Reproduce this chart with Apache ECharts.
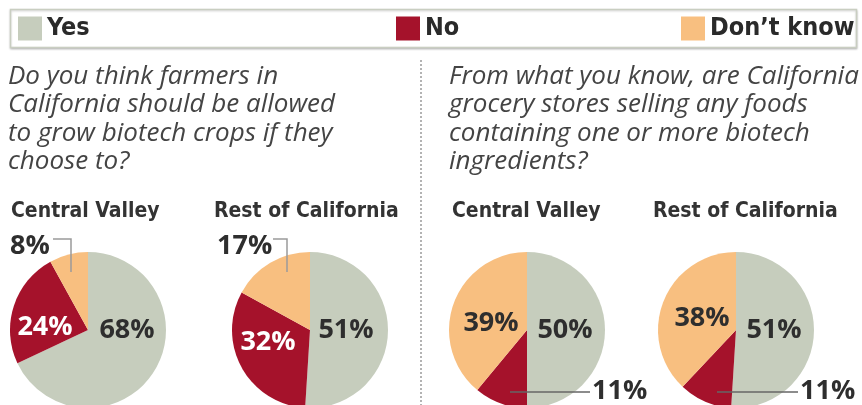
<!DOCTYPE html>
<html>
<head>
<meta charset="utf-8">
<script src="https://cdn.jsdelivr.net/npm/echarts@6/dist/echarts.min.js"></script>
<style>
  html, body { margin: 0; padding: 0; background: #fff; }
  #chart { width: 862px; height: 405px; }
</style>
</head>
<body>
<div id="chart"></div>
<script>
// answers (same order in every pie, clockwise from 12 o'clock)
var answers = ['Yes', 'No', 'Don\u2019t know'];
var regions = ['Central Valley', 'Rest of California'];

// Q1: allowed to grow biotech crops
var growCentral = [68, 24, 8];
var growRest = [51, 32, 17];
// Q2: stores selling biotech foods
var storesCentral = [50, 11, 39];
var storesRest = [51, 11, 38];

var questions = [
  'Do you think farmers in\nCalifornia should be allowed\nto grow biotech crops if they\nchoose to?',
  'From what you know, are California\ngrocery stores selling any foods\ncontaining one or more biotech\ningredients?'
];

var colors = ['#c6cdbd', '#a5122b', '#f8bf80'];
var labelColors = ['#2e2e2e', '#ffffff', '#2e2e2e'];

var pctFont = '"Open Sans", "DejaVu Sans", sans-serif';
var headFont = '"DejaVu Sans Condensed", "DejaVu Sans", sans-serif';
var narrowFont = '"Liberation Sans Narrow", "DejaVu Sans Condensed", sans-serif';

// pie layout: centre, which slice is labelled outside, label offsets from centre
var pies = [
  { values: growCentral, cx: 88, outer: 2, lineColor: '#9a9a9a',
    offs: [[39, 0], [-43, -3], [-78, -84]],
    line: [[-17, -58], [-17, -91], [-35, -91]] },
  { values: growRest, cx: 310, outer: 2, lineColor: '#9a9a9a',
    offs: [[36, 0], [-42, 12], [-93, -84]],
    line: [[-23, -58], [-23, -91], [-37, -91]] },
  { values: storesCentral, cx: 527, outer: 1, lineColor: '#666',
    offs: [[38, 0], [65, 61], [-36, -7]],
    line: [[-17, 62], [20, 62], [63, 62]] },
  { values: storesRest, cx: 736, outer: 1, lineColor: '#666',
    offs: [[38, 0], [64, 61], [-34, -12]],
    line: [[-19, 62], [20, 62], [62, 62]] }
];
var cy = 330, R = 78;

var chart = echarts.init(document.getElementById('chart'));

// the coloured slices
function pieSeries(p) {
  return {
    type: 'pie',
    z: 2,
    center: [p.cx, cy],
    radius: R,
    startAngle: 90,
    silent: true,
    label: { show: false },
    labelLine: { show: false },
    data: p.values.map(function (v, i) {
      return { name: answers[i], value: v, itemStyle: { color: colors[i] } };
    })
  };
}

// same pie again, transparent, on top: carries the % labels and leader lines
function labelSeries(p) {
  return {
    type: 'pie',
    z: 5,
    center: [p.cx, cy],
    radius: R,
    startAngle: 90,
    silent: true,
    avoidLabelOverlap: false,
    itemStyle: { color: 'rgba(0,0,0,0)' },
    label: {
      show: true,
      position: 'inside',
      formatter: '{c}%',
      fontFamily: pctFont,
      fontWeight: 'bold',
      fontSize: 27
    },
    labelLine: { show: false },
    labelLayout: function (params) {
      var i = params.dataIndex;
      var o = p.offs[i];
      var res = {
        x: p.cx + o[0],
        y: cy + o[1],
        align: i === p.outer ? 'left' : 'center',
        verticalAlign: 'middle'
      };
      if (i === p.outer) {
        res.labelLinePoints = p.line.map(function (pt) { return [p.cx + pt[0], cy + pt[1]]; });
      }
      return res;
    },
    data: p.values.map(function (v, i) {
      var item = {
        name: answers[i],
        value: v,
        label: { color: i === p.outer ? '#2e2e2e' : labelColors[i] }
      };
      if (i === p.outer) {
        item.label.position = 'outside';
        item.labelLine = { show: true, showAbove: true, lineStyle: { color: p.lineColor, width: 1.5 } };
      }
      return item;
    })
  };
}

var legendPos = [18, 396, 681];
var legends = answers.map(function (a, i) {
  return {
    data: [a],
    left: legendPos[i],
    top: 16,
    padding: 0,
    icon: 'rect',
    itemWidth: 24,
    itemHeight: 24,
    selectedMode: false,
    textStyle: {
      fontFamily: narrowFont,
      fontWeight: 'bold',
      fontSize: 25,
      color: '#2a2a2a'
    }
  };
});

var headLefts = [11, 214, 452, 653];
var titles = [
  { text: questions[0], left: 8, top: 62 },
  { text: questions[1], left: 449, top: 62 }
].map(function (t) {
  t.textStyle = {
    fontFamily: '"Open Sans", sans-serif',
    fontStyle: 'italic',
    fontWeight: 'normal',
    fontSize: 26,
    lineHeight: 28.5,
    color: '#444'
  };
  t.padding = 0;
  return t;
}).concat(headLefts.map(function (x, i) {
  return {
    text: regions[i % 2],
    left: x,
    top: 201,
    padding: 0,
    textStyle: {
      fontFamily: headFont,
      fontWeight: 'bold',
      fontSize: 21,
      color: '#333'
    }
  };
}));

chart.setOption({
  backgroundColor: '#fff',
  animation: false,
  title: titles,
  legend: legends,
  graphic: [
    {
      type: 'rect', z: -10,
      shape: { x: 10.5, y: 9.5, width: 846, height: 38 },
      style: { fill: '#fff', stroke: '#c9cec1', lineWidth: 1.5,
        shadowBlur: 2, shadowOffsetY: 1, shadowColor: 'rgba(0,0,0,0.2)' }
    },
    {
      type: 'line',
      shape: { x1: 421, y1: 60, x2: 421, y2: 405 },
      style: { stroke: '#9a9a9a', lineWidth: 1.5, lineDash: [2, 2] }
    }
  ],
  series: pies.map(pieSeries).concat(pies.map(labelSeries))
});
</script>
</body>
</html>
